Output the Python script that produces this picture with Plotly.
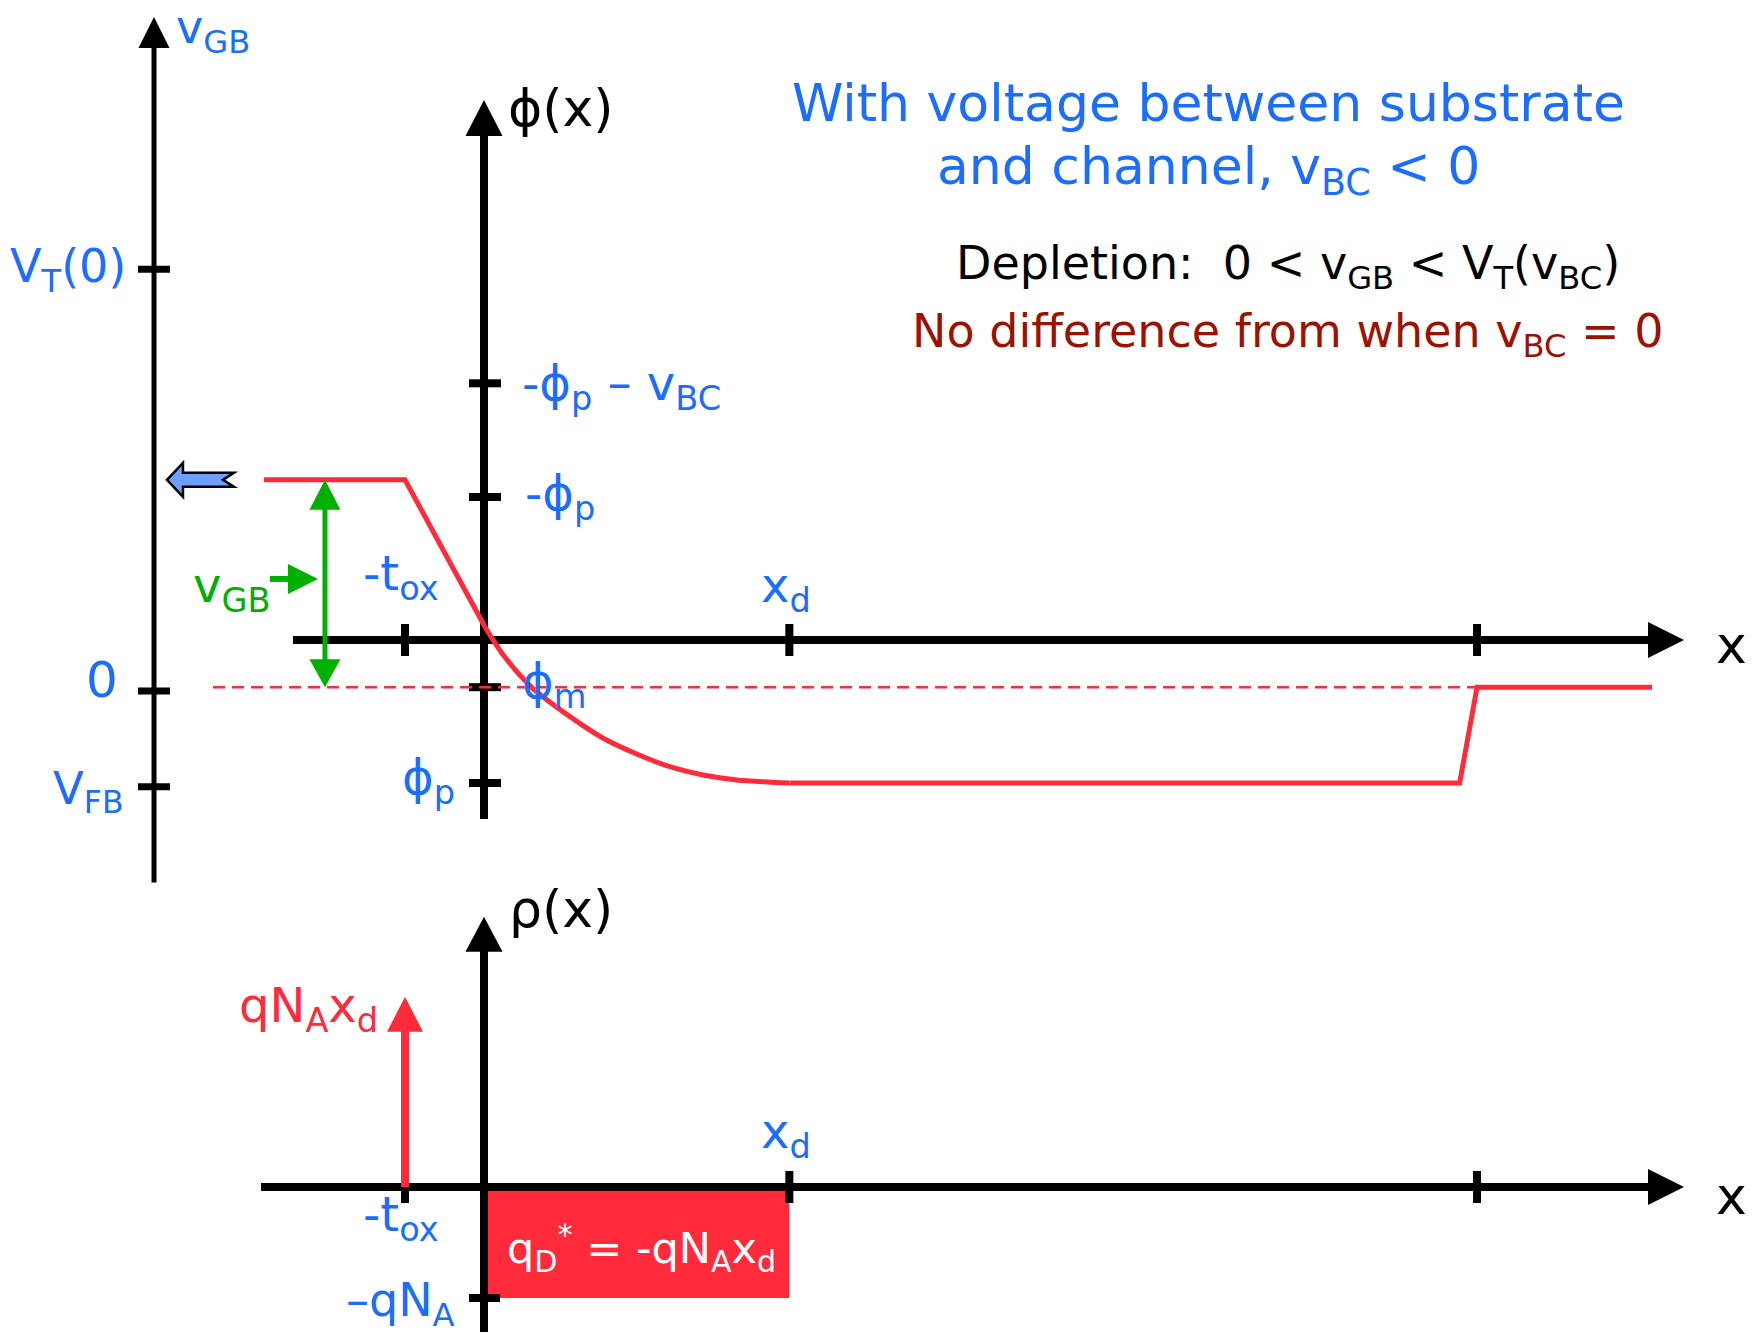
import plotly.graph_objects as go

# ---------------- data (diagram units) ----------------
# x positions, in units of the oxide thickness t_ox
X_NEG_TOX = -1.0
X_D = 3.865
X_BACK = 12.57
X_TICKS = [X_NEG_TOX, X_D, X_BACK]

# potential levels marked on the phi(x) axis
PHI_TICK_VALUES = [1.795, 1.0, -0.33, -1.0]
PHI_TICK_LABELS = ["-ϕ<sub>p</sub> – v<sub>BC</sub>", "-ϕ<sub>p</sub>",
                   "ϕ<sub>m</sub>", "ϕ<sub>p</sub>"]
PHI_GATE = 1.12
PHI_M = -0.33

# gate-to-body voltage axis
VGB_TICK_VALUES = [2.95, 0.0, -0.67]
VGB_TICK_LABELS = ["V<sub>T</sub>(0)", "0", "V<sub>FB</sub>"]

# potential profile phi(x): gate, oxide, depletion region, bulk, back contact
PHI_X = [-2.785, -1.0, 0.013, 0.244, 0.604, 1.089, 1.510, 1.933, 2.354,
         2.776, 3.199, 3.865, 12.35, 12.57, 14.785]
PHI_Y = [1.12, 1.12, 0.091, -0.105, -0.331, -0.536, -0.687, -0.797, -0.886,
         -0.944, -0.979, -1.0, -1.0, -0.33, -0.33]
# index range of the curved depletion-region part of the profile
DEPL_START, DEPL_END = 2, 11

# charge density rho(x)
RHO_NEG_QNA = -1.0
RHO_GATE_SHEET = 1.714

# ---------------- layout geometry (pixels) ----------------
W, H = 1754, 1336
X_ORG, X_UNIT = 484, 79
PHI_ORG, PHI_UNIT = 640, 143
VGB_ORG = 691
RHO_ORG, RHO_UNIT = 1187, 111

BLUE = "#1A6DFF"
RED = "#FF2A3A"
GREEN = "#00B000"
DARK_RED = "#9C1200"
ARROW_FILL = "#6E9FFF"
FONT = "DejaVu Sans"

X_RANGE = [-X_ORG / X_UNIT, (W - X_ORG) / X_UNIT]


def y_range(org, unit):
    return [-(H - org) / unit, org / unit]


UNITS = {"y": PHI_UNIT, "y2": RHO_UNIT, "y3": PHI_UNIT}


def dx(px):
    return px / X_UNIT


def dy(px, yref="y"):
    return px / UNITS[yref]


shapes_below = []
shapes_above = []


def seg(x0, y0, x1, y1, yref, color, width, bucket):
    bucket.append(dict(type="line", xref="x", yref=yref, x0=x0, y0=y0, x1=x1, y1=y1,
                       line=dict(color=color, width=width)))


def poly(points, yref, fill, bucket, outline=None, lw=0):
    path = "M " + " L ".join(f"{px:.5f},{py:.5f}" for px, py in points) + " Z"
    bucket.append(dict(type="path", xref="x", yref=yref, path=path, fillcolor=fill,
                       line=dict(color=outline or fill, width=lw)))


def head(tx, ty, direction, length, width, yref, color, bucket):
    L, hw = length, width / 2
    if direction == "up":
        pts = [(tx, ty), (tx - dx(hw), ty - dy(L, yref)), (tx + dx(hw), ty - dy(L, yref))]
    elif direction == "down":
        pts = [(tx, ty), (tx - dx(hw), ty + dy(L, yref)), (tx + dx(hw), ty + dy(L, yref))]
    else:  # right
        pts = [(tx, ty), (tx - dx(L), ty + dy(hw, yref)), (tx - dx(L), ty - dy(hw, yref))]
    poly(pts, yref, color, bucket)


# depletion charge block (drawn first so the axes sit on top)
shapes_below.append(dict(type="rect", xref="x", yref="y2", x0=0, x1=X_D,
                         y0=RHO_NEG_QNA, y1=0, fillcolor=RED, line=dict(width=0)))

# vGB axis
VGB_AX_X = -4.177
VGB_TOP = 4.713
seg(VGB_AX_X, -1.34, VGB_AX_X, VGB_TOP - dy(29, "y3"), "y3", "black", 5, shapes_below)
head(VGB_AX_X, VGB_TOP, "up", 31, 31, "y3", "black", shapes_below)
for v in VGB_TICK_VALUES:
    seg(VGB_AX_X - dx(16), v, VGB_AX_X + dx(16), v, "y3", "black", 7, shapes_below)

# phi(x) axis
PHI_TOP = 3.776
seg(0, -1.252, 0, PHI_TOP - dy(34), "y", "black", 8, shapes_below)
head(0, PHI_TOP, "up", 36, 37, "y", "black", shapes_below)
for v in PHI_TICK_VALUES:
    seg(-dx(15), v, dx(17), v, "y", "black", 8, shapes_below)

# x axes (upper: potential, lower: charge)
X_TIP = 15.19
for yref, x_start in (("y", -2.418), ("y2", -2.823)):
    seg(x_start, 0, X_TIP - dx(34), 0, yref, "black", 8, shapes_below)
    poly([(X_TIP, 0), (X_TIP - dx(36), dy(18, yref)), (X_TIP - dx(36), -dy(18, yref))],
         yref, "black", shapes_below)
    for xt in X_TICKS:
        seg(xt, -dy(16, yref), xt, dy(16, yref), yref, "black", 8, shapes_below)

# rho(x) axis
RHO_TOP = 2.435
seg(0, -1.306, 0, RHO_TOP - dy(33, "y2"), "y2", "black", 8, shapes_below)
head(0, RHO_TOP, "up", 35, 37, "y2", "black", shapes_below)
seg(-dx(15), RHO_NEG_QNA, dx(16), RHO_NEG_QNA, "y2", "black", 8, shapes_below)

# green vGB double arrow between substrate level and gate level
GX = -2.013
seg(GX, PHI_M + dy(26), GX, PHI_GATE - dy(28), "y", GREEN, 5, shapes_above)
head(GX, PHI_GATE, "up", 30, 31, "y", GREEN, shapes_above)
head(GX, PHI_M, "down", 28, 31, "y", GREEN, shapes_above)
PTR_Y = 0.427
seg(-2.709, PTR_Y, -2.101 - dx(28), PTR_Y, "y", GREEN, 6, shapes_above)
head(-2.101, PTR_Y, "right", 30, 30, "y", GREEN, shapes_above)

# gate sheet charge
seg(X_NEG_TOX, 0, X_NEG_TOX, RHO_GATE_SHEET - dy(33, "y2"), "y2", RED, 8, shapes_above)
head(X_NEG_TOX, RHO_GATE_SHEET, "up", 35, 36, "y2", RED, shapes_above)

# block arrow pointing at the vGB axis
BA_TIP = -4.013
block = [(0, 0), (16, -17), (16, -7), (67, -7), (56, 0), (67, 7), (16, 7), (16, 17)]
poly([(BA_TIP + dx(px), PHI_GATE - dy(py)) for px, py in block], "y", ARROW_FILL,
     shapes_above, outline="black", lw=2.5)

for s in shapes_below:
    s["layer"] = "below"
for s in shapes_above:
    s["layer"] = "above"

fig = go.Figure()
fig.add_trace(go.Scatter(x=[-3.43, X_BACK], y=[PHI_M, PHI_M], mode="lines",
                         line=dict(color=RED, width=2.5, dash="12px,7px"),
                         hoverinfo="skip", showlegend=False))
# straight segments (gate + oxide, bulk + back contact) and the smooth depletion curve
for sl, shape in ((slice(0, DEPL_START + 1), "linear"),
                  (slice(DEPL_START, DEPL_END + 1), "spline"),
                  (slice(DEPL_END, None), "linear")):
    fig.add_trace(go.Scatter(x=PHI_X[sl], y=PHI_Y[sl], mode="lines",
                             line=dict(color=RED, width=5, shape=shape, smoothing=0.8),
                             hoverinfo="skip", showlegend=False))

ann = []


def label(text, x, y, yref="y", xanchor="left", xshift=0, yshift=0,
          size=48, color=BLUE, xref="x"):
    ann.append(dict(text=text, x=x, y=y, xref=xref, yref=yref, xanchor=xanchor,
                    yanchor="middle", xshift=xshift, yshift=yshift, showarrow=False,
                    font=dict(family=FONT, size=size, color=color)))


# phi axis tick labels
phi_label_pos = [("left", 36, -3), ("left", 39, 0.5), ("left", 36, 3), ("right", -27, 3)]
for txt, v, (xa, xs, ys) in zip(PHI_TICK_LABELS, PHI_TICK_VALUES, phi_label_pos):
    label(txt, 0, v, xanchor=xa, xshift=xs, yshift=ys)

# vGB axis tick labels
vgb_label_pos = [("right", -26, 0, 46), ("center", -52, 11.5, 50), ("right", -28, -4, 45)]
for txt, v, (xa, xs, ys, sz) in zip(VGB_TICK_LABELS, VGB_TICK_VALUES, vgb_label_pos):
    label(txt, VGB_AX_X, v, yref="y3", xanchor=xa, xshift=xs, yshift=ys, size=sz)
label("v<sub>GB</sub>", VGB_AX_X, VGB_TOP, yref="y3", xshift=20, yshift=-13, size=46)

# axis titles
label("ϕ(x)", 0, PHI_TOP, xshift=22, yshift=-8, size=52, color="black")
label("ρ(x)", 0, RHO_TOP, yref="y2", xshift=23, yshift=7.7, size=52, color="black")
label("x", X_TIP, 0, xshift=30, yshift=-5, size=52, color="black")
label("x", X_TIP, 0, yref="y2", xshift=30, yshift=-9, size=52, color="black")

# x tick labels
label("x<sub>d</sub>", X_D, 0, xanchor="center", xshift=-3, yshift=51.5)
label("-t<sub>ox</sub>", X_NEG_TOX, 0, xanchor="center", xshift=-4, yshift=64)
label("x<sub>d</sub>", X_D, 0, yref="y2", xanchor="center", xshift=-3, yshift=52.5)
label("-t<sub>ox</sub>", X_NEG_TOX, 0, yref="y2", xanchor="center", xshift=-4, yshift=-30)

# green vGB label
label("v<sub>GB</sub>", GX, PTR_Y, xanchor="right", xshift=-53, yshift=-9.5, color=GREEN)

# charge labels
label("qN<sub>A</sub>x<sub>d</sub>", X_NEG_TOX, RHO_GATE_SHEET, yref="y2",
      xanchor="right", xshift=-25, yshift=-11.8, color=RED)
label("–qN<sub>A</sub>", 0, RHO_NEG_QNA, yref="y2", xanchor="right", xshift=-27,
      yshift=-5, size=46)
label("q<sub>D</sub><sup>*</sup> = -qN<sub>A</sub>x<sub>d</sub>", X_D / 2, RHO_NEG_QNA / 2,
      yref="y2", xanchor="center", xshift=5, yshift=-5, size=43, color="white")

# headline text
label("With voltage between substrate", 1208 / W, 1 - 103 / H, xref="paper",
      yref="paper", xanchor="center", size=52)
label("and channel, v<sub>BC</sub> &lt; 0", 1208 / W, 1 - 170.5 / H, xref="paper",
      yref="paper", xanchor="center", size=52)
label("Depletion:\u00a0 0 &lt; v<sub>GB</sub> &lt; V<sub>T</sub>(v<sub>BC</sub>)",
      1288 / W, 1 - 266 / H, xref="paper", yref="paper", xanchor="center",
      size=46, color="black")
label("No difference from when v<sub>BC</sub> = 0", 1288 / W, 1 - 334.5 / H,
      xref="paper", yref="paper", xanchor="center", size=46, color=DARK_RED)

hidden = dict(visible=False, showgrid=False, zeroline=False, fixedrange=True)
fig.update_layout(
    width=W, height=H,
    margin=dict(l=0, r=0, t=0, b=0),
    paper_bgcolor="white", plot_bgcolor="white",
    showlegend=False,
    xaxis=dict(range=X_RANGE, domain=[0, 1], **hidden),
    yaxis=dict(range=y_range(PHI_ORG, PHI_UNIT), domain=[0, 1], **hidden),
    yaxis2=dict(range=y_range(RHO_ORG, RHO_UNIT), overlaying="y", **hidden),
    yaxis3=dict(range=y_range(VGB_ORG, PHI_UNIT), overlaying="y", **hidden),
    shapes=shapes_below + shapes_above,
    annotations=ann,
)

fig.write_html("out.html")
